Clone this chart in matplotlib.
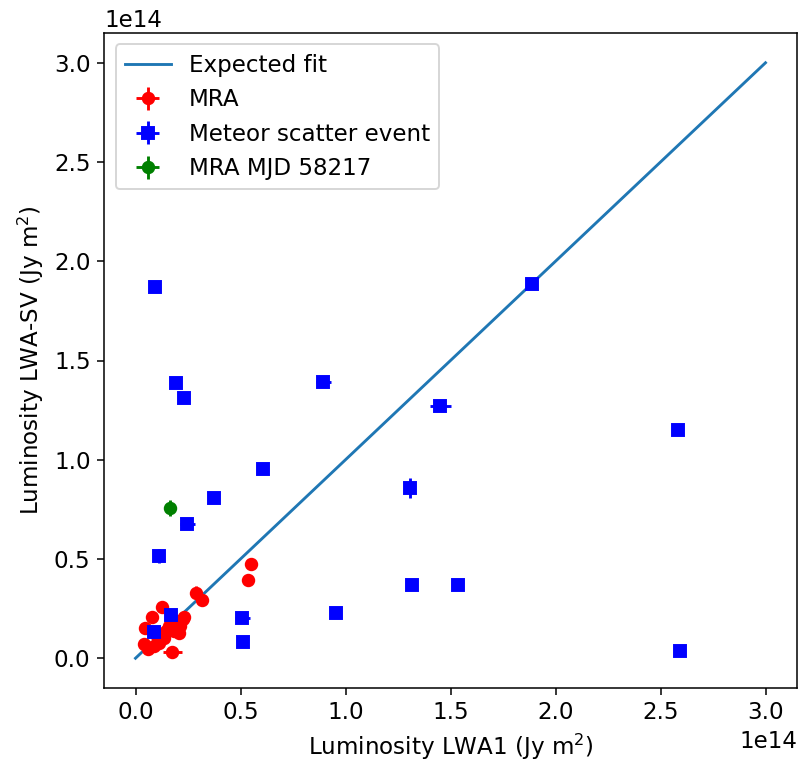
import numpy as np
import matplotlib
matplotlib.use('Agg')
import matplotlib.pyplot as plt

# luminosities in units of 1e14 Jy m^2
mra_lwa1 = [0.552, 0.537, 0.290, 0.318, 0.127, 0.079, 0.230, 0.044, 0.214, 0.206,
            0.159, 0.135, 0.111, 0.040, 0.060, 0.087, 0.175, 0.143, 0.183, 0.190,
            0.103, 0.227]
mra_lwasv = [0.473, 0.396, 0.331, 0.294, 0.259, 0.208, 0.208, 0.154, 0.163, 0.129,
             0.163, 0.104, 0.079, 0.070, 0.049, 0.062, 0.029, 0.138, 0.138, 0.188,
             0.112, 0.200]
mra_xerr = [0.01, 0.01, 0.01, 0.01, 0.01, 0.01, 0.01, 0.01, 0.01, 0.01,
            0.01, 0.01, 0.01, 0.01, 0.01, 0.01, 0.045, 0.01, 0.01, 0.01,
            0.01, 0.01]
mra_yerr = [0.01, 0.01, 0.035, 0.01, 0.01, 0.01, 0.01, 0.01, 0.01, 0.01,
            0.01, 0.01, 0.01, 0.01, 0.01, 0.01, 0.01, 0.01, 0.01, 0.01,
            0.01, 0.01]

met_lwa1 = [0.095, 0.192, 0.230, 0.895, 1.452, 0.608, 1.306, 0.376, 0.246, 0.113,
            2.582, 1.318, 1.537, 0.956, 2.595, 1.886, 0.170, 0.508, 0.087, 0.513]
met_lwasv = [1.869, 1.389, 1.312, 1.391, 1.270, 0.951, 0.859, 0.807, 0.678, 0.515,
             1.152, 0.369, 0.369, 0.228, 0.035, 1.887, 0.218, 0.201, 0.133, 0.084]
met_xerr = [0.005, 0.005, 0.005, 0.035, 0.05, 0.005, 0.008, 0.005, 0.035, 0.008,
            0.02, 0.005, 0.005, 0.005, 0.005, 0.02, 0.005, 0.035, 0.005, 0.005]
met_yerr = [0.005, 0.005, 0.005, 0.01, 0.01, 0.005, 0.05, 0.005, 0.01, 0.035,
            0.025, 0.005, 0.005, 0.005, 0.005, 0.01, 0.005, 0.01, 0.005, 0.005]

mjd_lwa1 = [0.162]
mjd_lwasv = [0.757]
mjd_xerr = [0.008]
mjd_yerr = [0.038]

fit_x = [0.0, 3.0]

scale = 1e14
dpi = 138

plt.rcParams['font.size'] = 12

fig = plt.figure(figsize=(799 / dpi, 764 / dpi), dpi=dpi)
fig.subplots_adjust(left=104 / 799, right=797 / 799, bottom=1 - 688 / 764, top=1 - 33 / 764)
ax = fig.add_subplot(111)

ax.plot(np.array(fit_x) * scale, np.array(fit_x) * scale, label='Expected fit')
ax.errorbar(np.array(mra_lwa1) * scale, np.array(mra_lwasv) * scale,
            xerr=np.array(mra_xerr) * scale, yerr=np.array(mra_yerr) * scale,
            fmt='o', color='red', label='MRA')
ax.errorbar(np.array(met_lwa1) * scale, np.array(met_lwasv) * scale,
            xerr=np.array(met_xerr) * scale, yerr=np.array(met_yerr) * scale,
            fmt='s', color='blue', label='Meteor scatter event')
ax.errorbar(np.array(mjd_lwa1) * scale, np.array(mjd_lwasv) * scale,
            xerr=np.array(mjd_xerr) * scale, yerr=np.array(mjd_yerr) * scale,
            fmt='o', color='green', label='MRA MJD 58217')

ax.set_xlabel('Luminosity LWA1 (Jy m$^2$)')
ax.set_ylabel('Luminosity LWA-SV (Jy m$^2$)')
ax.legend(loc='upper left')

fig.savefig('out.png', dpi=dpi)
